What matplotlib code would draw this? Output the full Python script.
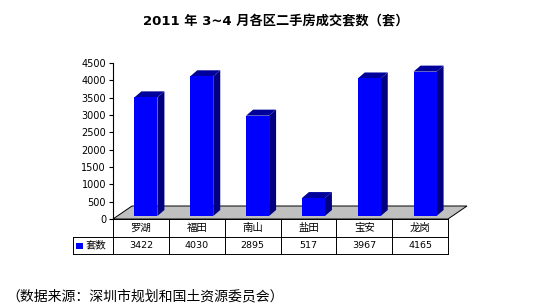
import matplotlib
matplotlib.use("Agg")
import matplotlib.pyplot as plt
from matplotlib.patches import Polygon, Rectangle
import matplotlib.transforms as mtransforms

plt.rcParams['font.family'] = ['DejaVu Sans', 'Noto Sans CJK SC']

districts = ['罗湖', '福田', '南山', '盐田', '宝安', '龙岗']
counts = [3422, 4030, 2895, 517, 3967, 4165]
series_name = '套数'
title = '2011 年 3~4 月各区二手房成交套数（套）'
source = '（数据来源：深圳市规划和国土资源委员会）'
yticks = list(range(0, 4501, 500))

W, H = 546, 307
fig = plt.figure(figsize=(W / 100, H / 100), dpi=100)

# axes box in pixels (left, top, right, bottom)
L, T, R, B = 113, 63, 448, 219
ax = fig.add_axes([L / W, 1 - B / H, (R - L) / W, (B - T) / H])
ax.set_xlim(-0.5, len(districts) - 0.5)
ax.set_ylim(0, 4500)
for s in ['top', 'right', 'bottom']:
    ax.spines[s].set_visible(False)
ax.spines['left'].set_linewidth(0.8)
ax.set_xticks([])
ax.set_yticks(yticks)
ax.tick_params(axis='y', direction='out', length=3, width=0.8, labelsize=7, pad=2)
ax.patch.set_alpha(0)

# pixel -> data units
ux = (len(districts)) / (R - L)
uy = 4500 / (B - T)

# floor
fdx, fdy = 19 * ux, 13 * uy
x0, x1 = -0.5, len(districts) - 0.5
floor = Polygon([(x0, 0), (x1, 0), (x1 + fdx, fdy), (x0 + fdx, fdy)],
                closed=True, facecolor='#c0c0c0', edgecolor='black', lw=0.7, clip_on=False, zorder=1)
ax.add_patch(floor)

# bars
bw = 23 * ux
boff = 5 * ux
lift = 3 * uy
ddx, ddy = 7 * ux, 6 * uy
for i, v in enumerate(counts):
    xl = i - bw / 2 + boff
    xr = xl + bw
    yb = lift
    yt = lift + v
    ax.add_patch(Polygon([(xr, yb), (xr + ddx, yb + ddy), (xr + ddx, yt + ddy), (xr, yt)],
                         closed=True, facecolor='#000080', edgecolor='none', clip_on=False, zorder=2))
    ax.add_patch(Polygon([(xl, yt), (xr, yt), (xr + ddx, yt + ddy), (xl + ddx, yt + ddy)],
                         closed=True, facecolor='#00009a', edgecolor='none', clip_on=False, zorder=2))
    ax.add_patch(Rectangle((xl, yb), bw, v, facecolor='#0000ff', edgecolor='none', clip_on=False, zorder=3))

# data table under the chart (x in data, y in figure pixels)
trans = mtransforms.blended_transform_factory(ax.transData, fig.transFigure)
def fy(p):
    return 1 - p / H

r0, r1, r2 = 219, 237, 254
leg_left = x0 - (113 - 73) * ux
kw = dict(transform=trans, color='black', lw=0.7, clip_on=False)
ax.plot([x0, x1], [fy(r0), fy(r0)], **kw)
ax.plot([leg_left, x1], [fy(r1), fy(r1)], **kw)
ax.plot([leg_left, x1], [fy(r2), fy(r2)], **kw)
ax.plot([leg_left, leg_left], [fy(r1), fy(r2)], **kw)
for k in range(len(districts) + 1):
    xb = k - 0.5
    ax.plot([xb, xb], [fy(r0), fy(r2)], **kw)

for i, (d, v) in enumerate(zip(districts, counts)):
    ax.text(i, fy((r0 + r1) / 2), d, transform=trans, ha='center', va='center', fontsize=7.5)
    ax.text(i, fy((r1 + r2) / 2), str(v), transform=trans, ha='center', va='center', fontsize=6.8)

ax.add_patch(Rectangle((leg_left + 3 * ux, fy(249)), 7 * ux, 6 / H, transform=trans,
                       facecolor='#0000ff', edgecolor='none', clip_on=False))
ax.text(leg_left + 13 * ux, fy((r1 + r2) / 2), series_name, transform=trans,
        ha='left', va='center', fontsize=7.5)

fig.text(276 / W, fy(22), title, ha='center', va='center', fontsize=9.5, fontweight='bold')
fig.text(6 / W, fy(296), source, ha='left', va='center', fontsize=10)

fig.savefig('out.png', dpi=100, facecolor='white')
